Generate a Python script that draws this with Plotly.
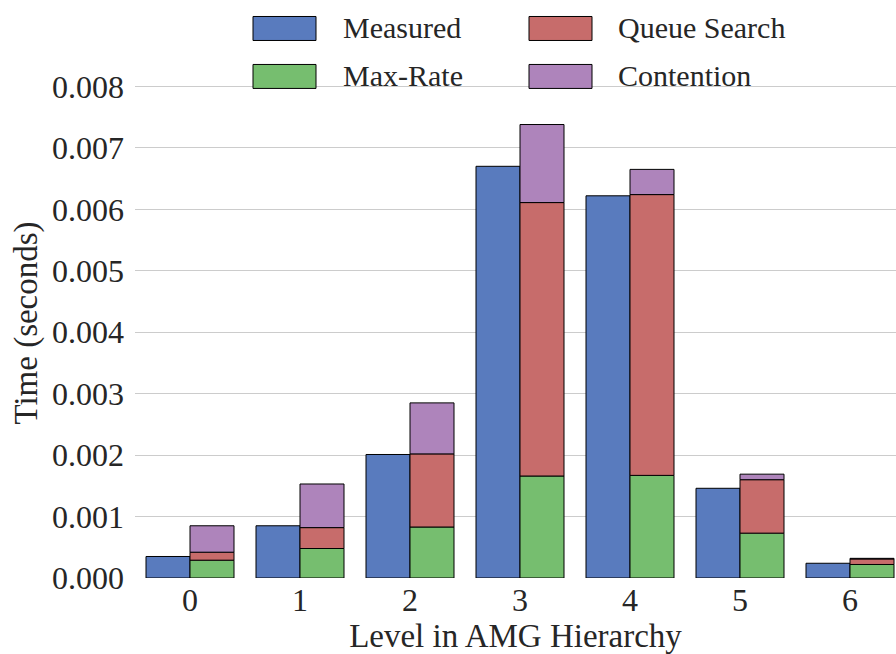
import plotly.graph_objects as go
import numpy as np

levels = [0, 1, 2, 3, 4, 5, 6]
measured = [0.00035, 0.00085, 0.00201, 0.00670, 0.00622, 0.00146, 0.00024]
max_rate = [0.00029, 0.00048, 0.00083, 0.00166, 0.00167, 0.00073, 0.00022]
queue_search = [0.00013, 0.00034, 0.00119, 0.00445, 0.00457, 0.00087, 0.00009]
contention = [0.00043, 0.00071, 0.00083, 0.00127, 0.00041, 0.00009, 0.00001]
y_ticks = [0.000, 0.001, 0.002, 0.003, 0.004, 0.005, 0.006, 0.007, 0.008]

C_BLUE = "rgb(89,123,190)"
C_GREEN = "rgb(118,190,111)"
C_RED = "rgb(199,108,107)"
C_PURPLE = "rgb(174,132,187)"
TXT = "#262626"
FONT = "Liberation Serif"

line = dict(color="black", width=1)
fig = go.Figure()
fig.add_trace(go.Bar(x=levels, y=measured, name="Measured", offset=-0.4, width=0.4,
                     marker=dict(color=C_BLUE, line=line)))
base1 = np.array(max_rate)
base2 = base1 + np.array(queue_search)
fig.add_trace(go.Bar(x=levels, y=max_rate, name="Max-Rate", offset=0.0, width=0.4,
                     marker=dict(color=C_GREEN, line=line)))
fig.add_trace(go.Bar(x=levels, y=queue_search, base=base1, name="Queue Search", offset=0.0, width=0.4,
                     marker=dict(color=C_RED, line=line)))
fig.add_trace(go.Bar(x=levels, y=contention, base=base2, name="Contention", offset=0.0, width=0.4,
                     marker=dict(color=C_PURPLE, line=line)))

# custom legend (paper coords)
W, H = 896, 654
Y_TOP = 0.0083
ml, mr, mb = 135, 0, 76
ph = (H - mb - 86) * Y_TOP / 0.008
mt = H - mb - ph
pw = W - ml - mr

def px(x):
    return (x - ml) / pw

def py(y):
    return (H - mb - y) / ph

shapes = []
annotations = []
legend_items = [
    ("Measured", C_BLUE, 253, 16, 341),
    ("Queue Search", C_RED, 529, 16, 616),
    ("Max-Rate", C_GREEN, 253, 64, 341),
    ("Contention", C_PURPLE, 529, 64, 616),
]
for name, col, sx, sy, tx in legend_items:
    shapes.append(dict(type="rect", xref="paper", yref="paper",
                       x0=px(sx), x1=px(sx + 63), y0=py(sy), y1=py(sy + 24),
                       fillcolor=col, line=dict(color="black", width=1)))
    annotations.append(dict(text=name, xref="paper", yref="paper", x=px(tx), y=py(sy + 11),
                            xanchor="left", yanchor="middle", showarrow=False,
                            font=dict(family=FONT, size=30, color=TXT)))

fig.update_layout(
    width=W, height=H,
    margin=dict(l=ml, r=mr, t=mt, b=mb),
    barmode="overlay",
    plot_bgcolor="white", paper_bgcolor="white",
    showlegend=False,
    shapes=shapes, annotations=annotations,
    font=dict(family=FONT, color=TXT),
    xaxis=dict(range=[-0.5, -0.5 + pw / 110.0], tickvals=levels, ticktext=[str(v) for v in levels],
               showgrid=False, zeroline=False, showline=False, ticks="",
               tickfont=dict(family=FONT, size=32, color=TXT),
               title=dict(text="Level in AMG Hierarchy", font=dict(family=FONT, size=33, color=TXT), standoff=2)),
    yaxis=dict(range=[0, Y_TOP], tickvals=y_ticks, ticktext=["%.3f" % v for v in y_ticks],
               showgrid=True, gridcolor="#cccccc", gridwidth=1.3, zeroline=False, showline=False,
               ticks="", ticklabelstandoff=10,
               tickfont=dict(family=FONT, size=32, color=TXT),
               title=dict(text="Time (seconds)", font=dict(family=FONT, size=33, color=TXT), standoff=4)),
)

fig.write_html("out.html", config={"displayModeBar": False},
               post_script="document.body.style.margin='0px';document.body.style.overflow='hidden';")
